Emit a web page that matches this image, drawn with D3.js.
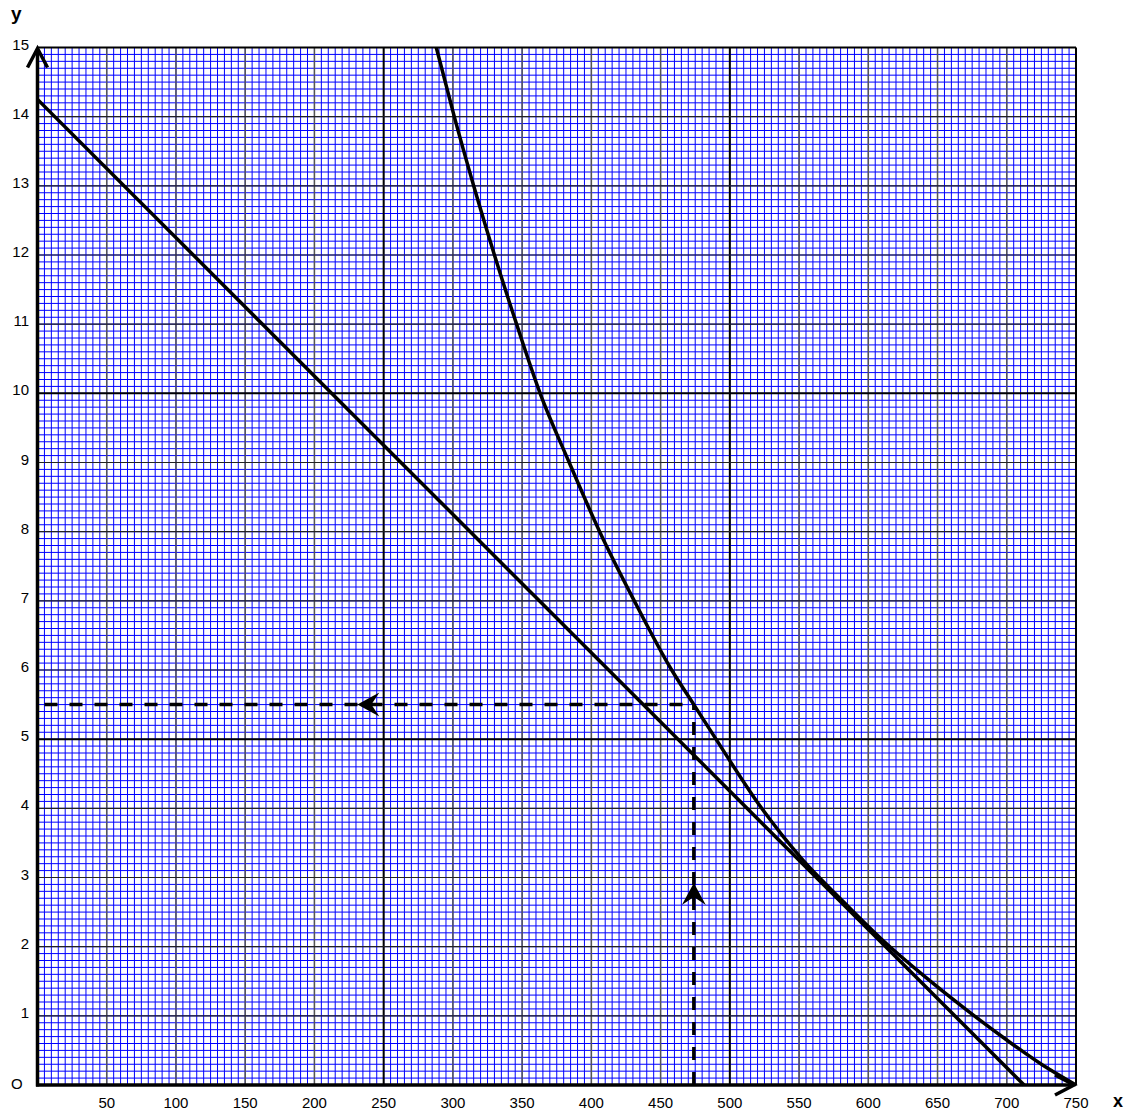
<!DOCTYPE html>
<html>
<head>
<meta charset="utf-8">
<script src="https://cdn.jsdelivr.net/npm/d3@7"></script>
<style>
  body { margin: 0; background: #fff; }
  svg text { font-family: "Liberation Sans", Arial, sans-serif; fill: #000; }
</style>
</head>
<body>
<svg id="chart" width="1132" height="1112"></svg>
<script>
// tick labels
let xTicks = [50, 100, 150, 200, 250, 300, 350, 400, 450, 500, 550, 600, 650, 700, 750];
let yTicks = [1, 2, 3, 4, 5, 6, 7, 8, 9, 10, 11, 12, 13, 14, 15];

// straight line
let lineX = [0, 712.5];
let lineY = [14.25, 0];

// curve
let curveX = [288, 301, 315, 330, 346, 363, 384, 406, 431, 458, 474, 490, 523, 552, 580, 610, 640, 670, 700, 725, 750];
let curveY = [15, 14, 13, 12, 11, 10, 9, 8, 7, 6, 5.5, 5, 4, 3.27, 2.69, 2.1, 1.58, 1.1, 0.65, 0.3, 0];

let readX = 474;
let readY = 5.5;
let arrowAtX = 231;   // arrow on the horizontal dashed line
let arrowAtY = 2.92;  // arrow on the vertical dashed line

let svg = d3.select('#chart');

let x = d3.scaleLinear().domain([0, 750]).range([37.5, 1076]);
let y = d3.scaleLinear().domain([0, 15]).range([1085, 47.5]);

// minor grid
let grid = svg.append('g');
d3.range(5, 750, 5).forEach(v => {
    grid.append('line')
        .attr('x1', x(v)).attr('x2', x(v))
        .attr('y1', y(0)).attr('y2', y(15))
        .attr('stroke', '#0000ff').attr('stroke-width', 1);
});
d3.range(1, 150).forEach(i => {
    let v = i / 10;
    grid.append('line')
        .attr('x1', x(0)).attr('x2', x(750))
        .attr('y1', y(v)).attr('y2', y(v))
        .attr('stroke', '#0000ff').attr('stroke-width', 1);
});

// major grid
xTicks.slice(0, -1).forEach(v => {
    let big = v % 250 === 0;
    grid.append('line')
        .attr('x1', x(v)).attr('x2', x(v))
        .attr('y1', y(0)).attr('y2', y(15))
        .attr('stroke', big ? '#000' : '#555')
        .attr('stroke-width', big ? 2 : 1.5);
});
yTicks.slice(0, -1).forEach(v => {
    let big = v % 5 === 0;
    grid.append('line')
        .attr('x1', x(0)).attr('x2', x(750))
        .attr('y1', y(v)).attr('y2', y(v))
        .attr('stroke', big ? '#000' : '#222')
        .attr('stroke-width', big ? 2 : 1.2);
});

// frame
svg.append('line')
    .attr('x1', x(0)).attr('x2', x(750)).attr('y1', y(15)).attr('y2', y(15))
    .attr('stroke', '#000').attr('stroke-width', 2);
svg.append('line')
    .attr('x1', x(750)).attr('x2', x(750)).attr('y1', y(0)).attr('y2', y(15))
    .attr('stroke', '#000').attr('stroke-width', 2);

// dashed read-off lines
svg.append('line')
    .attr('x1', x(readX)).attr('x2', x(readX))
    .attr('y1', y(0)).attr('y2', y(readY))
    .attr('stroke', '#000').attr('stroke-width', 3.5)
    .attr('stroke-dasharray', '13,12');
svg.append('line')
    .attr('x1', x(0) + 7).attr('x2', x(readX))
    .attr('y1', y(readY)).attr('y2', y(readY))
    .attr('stroke', '#000').attr('stroke-width', 3.5)
    .attr('stroke-dasharray', '13,12');

// arrow heads on the dashed lines
let hx = x(arrowAtX), hy = y(readY);
svg.append('path')
    .attr('d', `M${hx},${hy} L${hx + 22},${hy - 12} L${hx + 14},${hy} L${hx + 22},${hy + 12} Z`)
    .attr('fill', '#000');
let vx = x(readX), vy = y(arrowAtY);
svg.append('path')
    .attr('d', `M${vx},${vy} L${vx - 12},${vy + 22} L${vx},${vy + 14} L${vx + 12},${vy + 22} Z`)
    .attr('fill', '#000');

// straight line and curve
let lineGen = d3.line().x(d => x(d[0])).y(d => y(d[1]));
svg.append('path')
    .datum(d3.zip(lineX, lineY))
    .attr('d', lineGen)
    .attr('fill', 'none').attr('stroke', '#000').attr('stroke-width', 3.5);

let curveGen = d3.line().x(d => x(d[0])).y(d => y(d[1])).curve(d3.curveMonotoneX);
svg.append('path')
    .datum(d3.zip(curveX, curveY))
    .attr('d', curveGen)
    .attr('fill', 'none').attr('stroke', '#000').attr('stroke-width', 3.5);

// axes with arrows
svg.append('line')
    .attr('x1', x(0)).attr('x2', x(0)).attr('y1', y(0) + 1.5).attr('y2', y(15) + 2)
    .attr('stroke', '#000').attr('stroke-width', 3.5);
svg.append('line')
    .attr('x1', x(0) - 1.5).attr('x2', x(750) - 2).attr('y1', y(0)).attr('y2', y(0))
    .attr('stroke', '#000').attr('stroke-width', 3.5);
let ax = x(0), ay = y(15) + 1;
svg.append('path')
    .attr('d', `M${ax - 10},${ay + 19} L${ax},${ay} L${ax + 10},${ay + 19}`)
    .attr('fill', 'none').attr('stroke', '#000').attr('stroke-width', 3.5);
let bx = x(750) - 2, by = y(0);
svg.append('path')
    .attr('d', `M${bx - 19},${by - 10} L${bx},${by} L${bx - 19},${by + 10}`)
    .attr('fill', 'none').attr('stroke', '#000').attr('stroke-width', 3.5);

// tick labels
svg.selectAll('.ylab')
    .data(yTicks)
    .enter().append('text')
    .attr('class', 'ylab')
    .attr('x', 29)
    .attr('y', d => y(d) + 2)
    .attr('text-anchor', 'end')
    .style('font-size', '15px')
    .text(d => d);

svg.selectAll('.xlab')
    .data(xTicks)
    .enter().append('text')
    .attr('class', 'xlab')
    .attr('x', d => x(d))
    .attr('y', 1108)
    .attr('text-anchor', 'middle')
    .style('font-size', '15px')
    .text(d => d);

svg.append('text').attr('x', 11).attr('y', 1089).style('font-size', '15px').text('O');
svg.append('text').attr('x', 11).attr('y', 20)
    .style('font-size', '19px').style('font-weight', 'bold').text('y');
svg.append('text').attr('x', 1113).attr('y', 1107)
    .style('font-size', '18px').style('font-weight', 'bold').text('x');
</script>
</body>
</html>
